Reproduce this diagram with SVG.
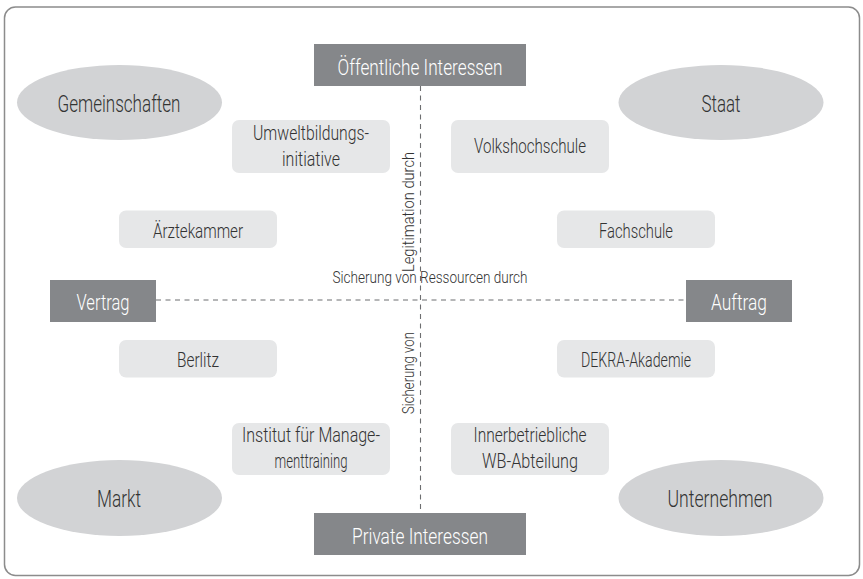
<svg xmlns="http://www.w3.org/2000/svg" width="863" height="579" viewBox="0 0 863 579">
<style>
text{font-family:Roboto,"Liberation Sans",Arial,sans-serif;font-weight:300;fill:#333333}
.dark rect{fill:#85878a}
.dark text{fill:#ffffff;font-size:22.5px;text-anchor:middle}
.ell ellipse{fill:#d2d3d5}
.ell text{font-size:23px;text-anchor:middle}
.lt rect{fill:#e6e7e8}
.lt text{font-size:20px;text-anchor:middle}
.lbl{font-size:16.5px;text-anchor:middle}
.dash{stroke:#6d6e70;stroke-width:1.1;stroke-dasharray:5 4.5;fill:none}
</style>
<rect x="4.5" y="7" width="855" height="568.5" rx="11" fill="#ffffff" stroke="#8c8c8c" stroke-width="1.5"/>
<g id="connectors">
<line class="dash" x1="420.5" y1="86" x2="420.5" y2="513"/>
<line class="dash" x1="156" y1="300" x2="686" y2="300"/>
<text class="lbl" x="430" y="283" textLength="195" lengthAdjust="spacingAndGlyphs">Sicherung von Ressourcen durch</text>
<text class="lbl" transform="translate(414 212) rotate(-90)" textLength="120" lengthAdjust="spacingAndGlyphs">Legitimation durch</text>
<text class="lbl" transform="translate(414 373) rotate(-90)" textLength="82" lengthAdjust="spacingAndGlyphs">Sicherung von</text>
</g>
<g id="oeffentliche" class="dark"><rect x="314" y="44" width="212" height="42"/><text x="420" y="75" textLength="165" lengthAdjust="spacingAndGlyphs">Öffentliche Interessen</text></g>
<g id="private" class="dark"><rect x="314" y="513" width="212" height="42"/><text x="420" y="544" textLength="136" lengthAdjust="spacingAndGlyphs">Private Interessen</text></g>
<g id="vertrag" class="dark"><rect x="50" y="280" width="106" height="42"/><text x="103" y="310" textLength="53" lengthAdjust="spacingAndGlyphs">Vertrag</text></g>
<g id="auftrag" class="dark"><rect x="686" y="280" width="106" height="42"/><text x="739" y="310" textLength="56" lengthAdjust="spacingAndGlyphs">Auftrag</text></g>
<g id="gemeinschaften" class="ell"><ellipse cx="119.5" cy="102.5" rx="102.5" ry="37.5"/><text x="119" y="112" textLength="123" lengthAdjust="spacingAndGlyphs">Gemeinschaften</text></g>
<g id="staat" class="ell"><ellipse cx="721" cy="102.5" rx="102.5" ry="37.5"/><text x="721" y="112" textLength="39" lengthAdjust="spacingAndGlyphs">Staat</text></g>
<g id="markt" class="ell"><ellipse cx="119.5" cy="498" rx="102.5" ry="38"/><text x="119" y="507" textLength="44" lengthAdjust="spacingAndGlyphs">Markt</text></g>
<g id="unternehmen" class="ell"><ellipse cx="721" cy="498" rx="102.5" ry="38"/><text x="720" y="507" textLength="105" lengthAdjust="spacingAndGlyphs">Unternehmen</text></g>
<g id="umwelt" class="lt"><rect x="232" y="120" width="158" height="53" rx="7"/><text x="311" y="140" textLength="116" lengthAdjust="spacingAndGlyphs">Umweltbildungs-</text><text x="311" y="166" textLength="58" lengthAdjust="spacingAndGlyphs">initiative</text></g>
<g id="vhs" class="lt"><rect x="451" y="120" width="158" height="53" rx="7"/><text x="530" y="153" textLength="112" lengthAdjust="spacingAndGlyphs">Volkshochschule</text></g>
<g id="aerztekammer" class="lt"><rect x="119" y="210.5" width="158" height="37.5" rx="7"/><text x="198" y="238" textLength="90" lengthAdjust="spacingAndGlyphs">Ärztekammer</text></g>
<g id="fachschule" class="lt"><rect x="557" y="210.5" width="158" height="37.5" rx="7"/><text x="636" y="238" textLength="74" lengthAdjust="spacingAndGlyphs">Fachschule</text></g>
<g id="berlitz" class="lt"><rect x="119" y="340" width="158" height="37.5" rx="7"/><text x="198" y="367" textLength="42" lengthAdjust="spacingAndGlyphs">Berlitz</text></g>
<g id="dekra" class="lt"><rect x="557" y="340" width="158" height="37.5" rx="7"/><text x="636" y="367" textLength="110" lengthAdjust="spacingAndGlyphs">DEKRA-Akademie</text></g>
<g id="institut" class="lt"><rect x="232" y="423" width="158" height="52" rx="7"/><text x="311" y="442" textLength="138" lengthAdjust="spacingAndGlyphs">Institut für Manage-</text><text x="311" y="468" textLength="73" lengthAdjust="spacingAndGlyphs">menttraining</text></g>
<g id="innerbetrieblich" class="lt"><rect x="451" y="423" width="158" height="52" rx="7"/><text x="530" y="442" textLength="113" lengthAdjust="spacingAndGlyphs">Innerbetriebliche</text><text x="530" y="468" textLength="96" lengthAdjust="spacingAndGlyphs">WB-Abteilung</text></g>
</svg>
